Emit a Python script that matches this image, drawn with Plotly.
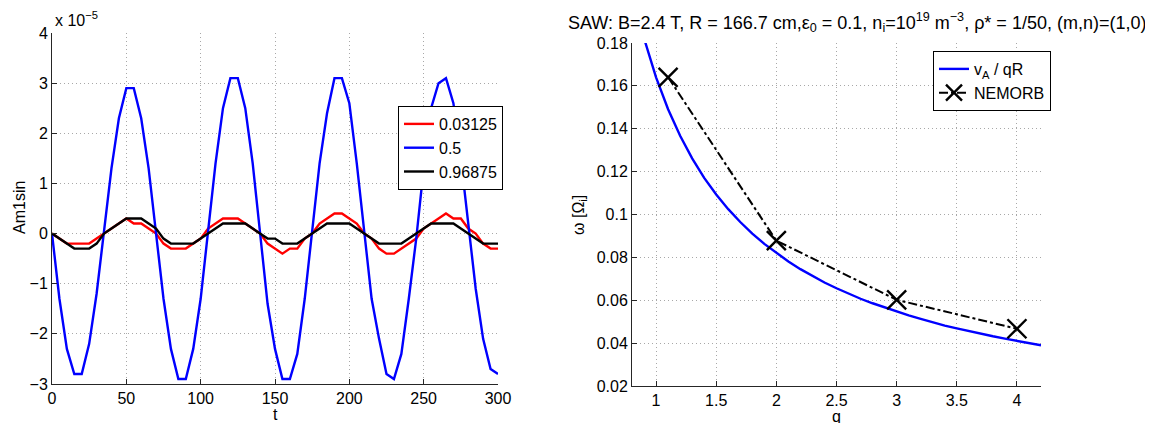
import plotly.graph_objects as go

# ---------------- Left panel data (values in units of 1e-5) ----------------
t = list(range(0, 301, 5))
am_003125 = [0, -0.1, -0.2, -0.2, -0.2, -0.2, -0.1, 0, 0.1, 0.2,
             0.3, 0.2, 0.2, 0.1, 0, -0.2, -0.3, -0.3, -0.3, -0.2,
             -0.1, 0.1, 0.2, 0.3, 0.3, 0.3, 0.2, 0.1, 0, -0.2,
             -0.3, -0.4, -0.3, -0.3, -0.1, 0, 0.2, 0.3, 0.4, 0.4,
             0.3, 0.2, 0, -0.1, -0.3, -0.4, -0.4, -0.3, -0.2, -0.1,
             0.1, 0.2, 0.3, 0.4, 0.3, 0.3, 0.1, 0, -0.2, -0.3, -0.3]
am_05 = [0, -1.3, -2.3, -2.8, -2.8, -2.2, -1.2, 0.1, 1.3, 2.3,
         2.9, 2.9, 2.3, 1.3, 0, -1.3, -2.3, -2.9, -2.9, -2.3,
         -1.3, 0, 1.4, 2.5, 3.1, 3.1, 2.5, 1.4, 0, -1.4,
         -2.3, -2.9, -2.9, -2.4, -1.3, 0, 1.4, 2.4, 3.1, 3.1,
         2.6, 1.4, 0, -1.3, -2.1, -2.8, -2.9, -2.4, -1.3, -0.1,
         1.3, 2.5, 3.0, 3.1, 2.6, 1.5, 0.2, -1.1, -2.1, -2.7, -2.8]
am_096875 = [0, -0.1, -0.2, -0.3, -0.3, -0.3, -0.2, 0, 0.1, 0.2,
             0.3, 0.3, 0.3, 0.2, 0.1, -0.1, -0.2, -0.2, -0.2, -0.2,
             -0.1, 0, 0.1, 0.2, 0.2, 0.2, 0.2, 0.1, 0, -0.1,
             -0.1, -0.2, -0.2, -0.2, -0.1, 0, 0.1, 0.2, 0.2, 0.2,
             0.2, 0.1, 0, -0.1, -0.2, -0.2, -0.2, -0.2, -0.1, 0,
             0.1, 0.2, 0.2, 0.2, 0.2, 0.1, 0, -0.1, -0.2, -0.2, -0.2]
left_names = ["0.03125", "0.5", "0.96875"]
left_colors = ["#ff0000", "#0000ff", "#000000"]

# ---------------- Right panel data ----------------
q_curve = [0.9, 1.0, 1.1, 1.2, 1.3, 1.4, 1.5, 1.6, 1.7, 1.8, 1.9, 2.0,
           2.1, 2.2, 2.3, 2.4, 2.5, 2.6, 2.7, 2.8, 2.9, 3.0, 3.1, 3.2,
           3.3, 3.4, 3.5, 3.6, 3.7, 3.8, 3.9, 4.0, 4.1, 4.2]
w_curve = [0.1822, 0.164, 0.1491, 0.1367, 0.1262, 0.1171, 0.1093, 0.1025,
           0.0965, 0.0911, 0.0863, 0.082, 0.0781, 0.0745, 0.0713, 0.0683,
           0.0656, 0.0631, 0.0607, 0.0586, 0.0566, 0.0547, 0.0529, 0.0513,
           0.0497, 0.0482, 0.0469, 0.0456, 0.0443, 0.0432, 0.0421, 0.041,
           0.040, 0.039]
q_nemorb = [1.1, 2.0, 3.0, 4.0]
w_nemorb = [0.164, 0.0878, 0.0602, 0.0467]

# page has an 8px body margin: figure starts at page (8, 8)
OFF = 8
W, H = 1145, 415
FONT = "Liberation Sans, Arial, Helvetica, sans-serif"
FS = 16


def px(x):
    return (x - OFF) / W


def py(y):
    return 1 - (y - OFF) / H


fig = go.Figure()
for ys, nm, col in zip([am_003125, am_05, am_096875], left_names, left_colors):
    fig.add_trace(go.Scatter(x=t, y=ys, mode="lines", name=nm,
                             line=dict(color=col, width=2.4),
                             xaxis="x", yaxis="y", legend="legend"))

fig.add_trace(go.Scatter(x=q_curve, y=w_curve, mode="lines",
                         name="v<sub>A</sub> / qR",
                         line=dict(color="#0000ff", width=2.4),
                         xaxis="x2", yaxis="y2", legend="legend2"))
fig.add_trace(go.Scatter(x=q_nemorb, y=w_nemorb, mode="lines+markers",
                         name="NEMORB",
                         line=dict(color="#000000", width=2, dash="dashdot"),
                         marker=dict(symbol="x-thin", size=19,
                                     line=dict(color="#000000", width=2.4)),
                         xaxis="x2", yaxis="y2", legend="legend2"))

axis_common = dict(
    showline=True, linecolor="#262626", linewidth=1,
    ticks="inside", ticklen=5, tickcolor="#262626", tickwidth=1,
    showgrid=True, gridcolor="#a8a8a8", griddash="1px,3px", gridwidth=1,
    zeroline=False, mirror=False, automargin=False,
    tickfont=dict(family=FONT, size=FS, color="#000000"),
)

fig.update_layout(
    template="none",
    width=W, height=H,
    margin=dict(l=0, r=0, t=0, b=0),
    paper_bgcolor="white", plot_bgcolor="white",
    font=dict(family=FONT, size=FS, color="#000000"),
    xaxis=dict(domain=[px(52), px(498)], range=[0, 300], tickvals=[0, 50, 100, 150, 200, 250, 300],
               anchor="y", **axis_common),
    yaxis=dict(domain=[py(384), py(33)], range=[-3, 4], tickvals=[-3, -2, -1, 0, 1, 2, 3, 4],
               anchor="x", **axis_common),
    xaxis2=dict(domain=[px(632), px(1041)], range=[0.8, 4.2],
                tickvals=[1, 1.5, 2, 2.5, 3, 3.5, 4], anchor="y2", **axis_common),
    yaxis2=dict(domain=[py(386), py(43)], range=[0.02, 0.18],
                tickvals=[0.02, 0.04, 0.06, 0.08, 0.1, 0.12, 0.14, 0.16, 0.18],
                ticktext=["0.02", "0.04", "0.06", "0.08", "0.1", "0.12", "0.14", "0.16", "0.18"],
                anchor="x2", **axis_common),
    legend=dict(x=px(398), y=py(106), xanchor="left", yanchor="top",
                bgcolor="white", bordercolor="#000000", borderwidth=1,
                font=dict(family=FONT, size=FS), itemwidth=30,
                tracegroupgap=0),
    legend2=dict(x=px(933), y=py(51), xanchor="left", yanchor="top",
                 bgcolor="white", bordercolor="#000000", borderwidth=1,
                 font=dict(family=FONT, size=FS), itemwidth=30,
                 tracegroupgap=0),
    showlegend=True,
)

annotations = [
    dict(text="x 10<sup>−5</sup>", x=px(53), y=py(31), xanchor="left", yanchor="bottom",
         showarrow=False, font=dict(family=FONT, size=FS)),
    dict(text="Am1sin", x=px(19), y=py(208), textangle=-90, xanchor="center", yanchor="middle",
         showarrow=False, font=dict(family=FONT, size=FS)),
    dict(text="t", x=px(275), y=py(414), xanchor="center", yanchor="middle",
         showarrow=False, font=dict(family=FONT, size=FS)),
    dict(text="q", x=px(836), y=py(416), xanchor="center", yanchor="middle",
         showarrow=False, font=dict(family=FONT, size=FS)),
    dict(text="ω [Ω<sub>i</sub>]", x=px(579), y=py(215), textangle=-90, xanchor="center",
         yanchor="middle", showarrow=False, font=dict(family=FONT, size=FS)),
    dict(text="SAW: B=2.4 T, R = 166.7 cm,ε<sub>0</sub> = 0.1, n<sub>i</sub>=10<sup>19</sup> m<sup>−3</sup>, "
              "ρ* = 1/50, (m,n)=(1,0)",
         x=px(857), y=py(22), xanchor="center", yanchor="middle",
         showarrow=False, font=dict(family=FONT, size=18)),
]
for a in annotations:
    a["xref"] = "paper"
    a["yref"] = "paper"
fig.update_layout(annotations=annotations)

fig.write_html("out.html")
